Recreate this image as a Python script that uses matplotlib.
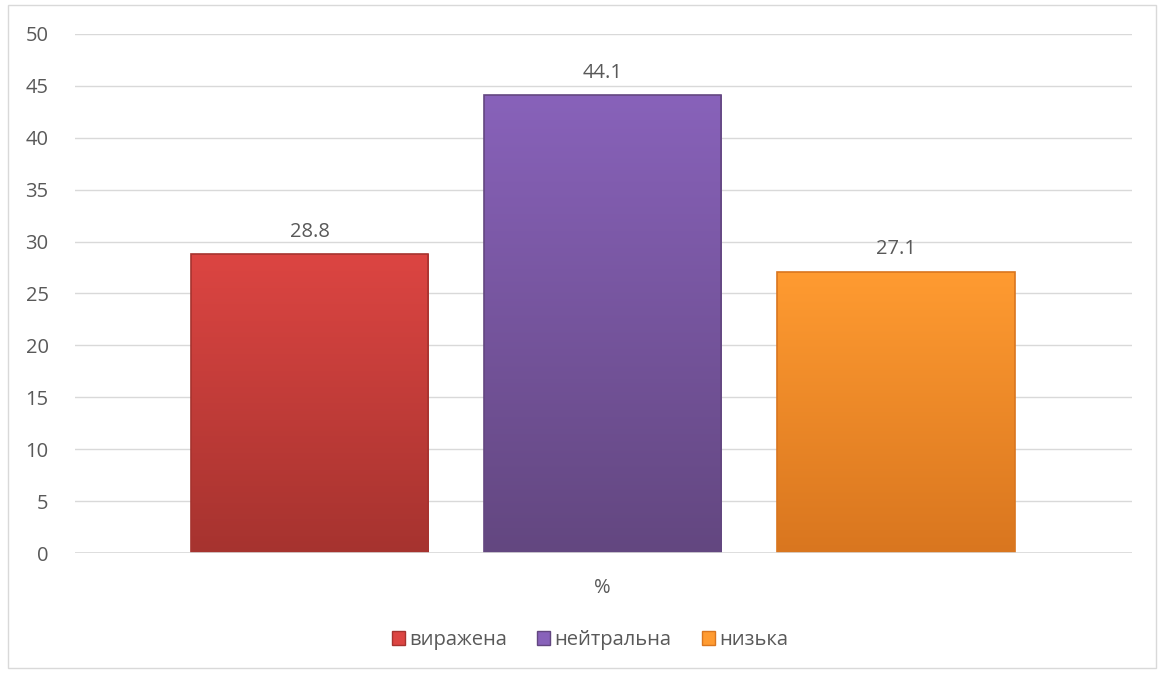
import numpy as np
import matplotlib.pyplot as plt
from matplotlib.patches import Rectangle, Patch
from matplotlib.colors import LinearSegmentedColormap

plt.rcParams['font.family'] = ['Open Sans', 'DejaVu Sans']

categories = ["виражена", "нейтральна", "низька"]
values = [28.8, 44.1, 27.1]
top_colors = ["#dc4542", "#8862ba", "#ff9b31"]
bottom_colors = ["#a6332f", "#634780", "#d9761f"]
text_color = "#595959"
fs = 14.5

fig = plt.figure(figsize=(11.64, 6.73), dpi=100)
# outer chart border
fig.patches.append(Rectangle((0.007, 0.008), 0.986, 0.984, transform=fig.transFigure,
                             fill=False, edgecolor="#d9d9d9", linewidth=1))

ax = fig.add_axes([0.0644, 0.1783, 0.9081, 0.7712])
x = np.arange(len(values))
width = 0.81
bars = ax.bar(x, values, width=width, color=top_colors, zorder=2)

# vertical gradient fill for each bar
grad = np.linspace(1, 0, 256).reshape(-1, 1)
for bar, c_top, c_bot in zip(bars, top_colors, bottom_colors):
    cmap = LinearSegmentedColormap.from_list("g", [c_bot, c_top])
    x0, y0 = bar.get_x(), bar.get_y()
    w, h = bar.get_width(), bar.get_height()
    im = ax.imshow(grad, cmap=cmap, aspect="auto", extent=[x0, x0 + w, y0, y0 + h],
                   zorder=3, vmin=0, vmax=1)
    im.set_clip_path(bar)
    ax.add_patch(Rectangle((x0, y0), w, h, fill=False, edgecolor=c_bot,
                           linewidth=1.2, zorder=4))
    ax.text(x0 + w / 2, y0 + h + 1.2, f"{h:.1f}", ha="center", va="bottom",
            fontsize=fs, color=text_color)

ax.set_xlim(-0.8, 2.805)
ax.set_ylim(0, 50)
ax.set_yticks(range(0, 51, 5))
ax.yaxis.grid(True, color="#d9d9d9", linewidth=1)
ax.set_axisbelow(True)
ax.set_xticks([])
for s in ax.spines.values():
    s.set_visible(False)
ax.axhline(0, color="#d9d9d9", linewidth=1.2, zorder=5)
ax.tick_params(axis="y", length=0, labelsize=fs, labelcolor=text_color, pad=19)

fig.text(602 / 1164, 1 - 588 / 673, "%", ha="center", va="center",
         fontsize=fs, color=text_color)

handles = [Patch(facecolor=c, edgecolor=b) for c, b in zip(top_colors, bottom_colors)]
fig.legend(handles, categories, loc="center", bbox_to_anchor=(590 / 1164, 1 - 640 / 673),
           ncol=3, frameon=False, fontsize=fs, labelcolor=text_color,
           handlelength=0.65, handleheight=0.65, handletextpad=0.2, columnspacing=1.5)

fig.savefig("out.png", dpi=100)
